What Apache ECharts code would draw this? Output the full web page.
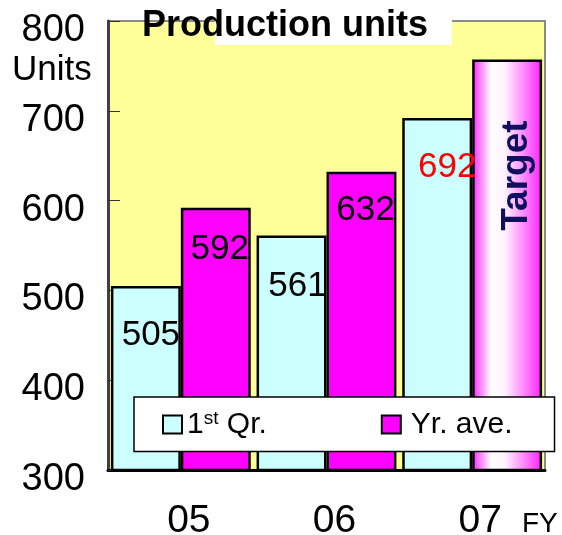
<!DOCTYPE html>
<html>
<head>
<meta charset="utf-8">
<script src="https://cdn.jsdelivr.net/npm/echarts@6/dist/echarts.min.js"></script>
<style>
  html, body { margin: 0; padding: 0; background: #fff; }
  #chart { width: 562px; height: 535px; }
</style>
</head>
<body>
<div id="chart"></div>
<script>
// Fiscal years and production figures
const years = ['05', '06', '07'];
const firstQuarter = [505, 561, 692];
const yearAverage = [592, 632];
const targetValue = 757;
const yTicks = { min: 300, max: 800, step: 100 };

// Per-label placement inside the bars: [dx, distance of text centre below bar top]
const qLabelPos = [[5, 46], [6, 48], [10, 46]];
const aLabelPos = [[4, 39], [4, 35]];

const FONT = 'Liberation Sans, Arial, sans-serif';
const LABEL_SIZE = 35;

function valueLabel(pos, color) {
  return {
    show: true,
    position: 'insideTop',
    distance: pos[1] - LABEL_SIZE / 2 + 3,
    offset: [pos[0], 0],
    fontFamily: FONT,
    fontSize: LABEL_SIZE,
    letterSpacing: -1,
    color: color || '#000'
  };
}

const qData = firstQuarter.map((v, i) => ({
  value: v,
  label: valueLabel(qLabelPos[i], i === 2 ? '#ff0000' : '#000')
}));

const aData = yearAverage.map((v, i) => ({
  value: v,
  label: valueLabel(aLabelPos[i])
}));
aData.push({
  value: targetValue,
  itemStyle: {
    color: {
      type: 'linear', x: 0, y: 0, x2: 1, y2: 0,
      colorStops: [
        { offset: 0, color: '#ff22ff' },
        { offset: 0.27, color: '#ffffff' },
        { offset: 0.47, color: '#fff2ff' },
        { offset: 1, color: '#ff22ff' }
      ]
    }
  },
  label: {
    show: true,
    formatter: 'Target',
    position: ['64%', 116],
    rotate: 90,
    align: 'center',
    verticalAlign: 'middle',
    fontFamily: FONT,
    fontWeight: 'bold',
    fontSize: 37,
    color: '#10105e'
  }
});

const chart = echarts.init(document.getElementById('chart'), null, { renderer: 'canvas' });

chart.setOption({
  animation: false,
  backgroundColor: '#ffffff',
  textStyle: { fontFamily: FONT },
  title: {
    text: 'Production units',
    left: 137,
    top: 3,
    z: 10,
    textStyle: { fontFamily: FONT, fontWeight: 'bold', fontSize: 36, color: '#000' }
  },
  grid: {
    left: 108, right: 17, top: 21, bottom: 65,
    outerBoundsMode: 'none',
    containLabel: false,
    show: true,
    backgroundColor: '#ffff99',
    borderColor: '#8a8a8a',
    borderWidth: 2
  },
  legend: {
    left: 134,
    top: 397,
    padding: [12, 42, 12, 28],
    itemGap: 114,
    itemWidth: 19,
    itemHeight: 18,
    icon: 'rect',
    backgroundColor: '#ffffff',
    borderColor: '#000',
    borderWidth: 1.5,
    itemStyle: { borderColor: '#000', borderWidth: 2 },
    formatter: name => name === '1st Qr.' ? '1{sup|st} Qr.' : '{ya|' + name + '}',
    textStyle: {
      fontFamily: FONT,
      fontSize: 30,
      color: '#000',
      rich: {
        sup: { fontFamily: FONT, fontSize: 19, color: '#000', verticalAlign: 'top', padding: [0, 0, 12, 0] },
        ya: { fontFamily: FONT, fontSize: 30, color: '#000', padding: [0, 0, 0, 5] }
      }
    },
    data: ['1st Qr.', 'Yr. ave.']
  },
  xAxis: {
    type: 'category',
    data: years,
    axisLine: { lineStyle: { color: '#000', width: 3 } },
    axisTick: { show: false },
    axisLabel: {
      fontFamily: FONT, fontSize: 39, color: '#000',
      margin: 32, padding: [0, 0, 0, 16]
    }
  },
  yAxis: {
    type: 'value',
    min: yTicks.min,
    max: yTicks.max,
    interval: yTicks.step,
    axisLine: { show: true, lineStyle: { color: '#404040', width: 3 } },
    axisTick: { show: true, inside: true, length: 12, lineStyle: { color: '#333', width: 1 } },
    splitLine: { show: false },
    axisLabel: {
      fontFamily: FONT, fontSize: 38, color: '#000',
      margin: 23, verticalAlign: 'top', lineHeight: 19
    }
  },
  graphic: [
    { type: 'rect', left: 215, top: 0, z: 5, shape: { width: 237, height: 45 }, style: { fill: '#ffffff' } },
    { type: 'text', left: 12, top: 53, z: 5, style: { text: 'Units', font: '35px ' + FONT, fill: '#000' } },
    { type: 'text', left: 522, top: 510, z: 5, style: { text: 'FY', font: '28px ' + FONT, fill: '#000' } }
  ],
  series: [
    {
      name: '1st Qr.',
      type: 'bar',
      data: qData,
      barGap: '0%',
      barCategoryGap: '4%',
      itemStyle: { color: '#ccffff', borderColor: '#000', borderWidth: 2.5 }
    },
    {
      name: 'Yr. ave.',
      type: 'bar',
      data: aData,
      itemStyle: { color: '#ff00ff', borderColor: '#000', borderWidth: 2.5 }
    }
  ]
});
</script>
</body>
</html>
